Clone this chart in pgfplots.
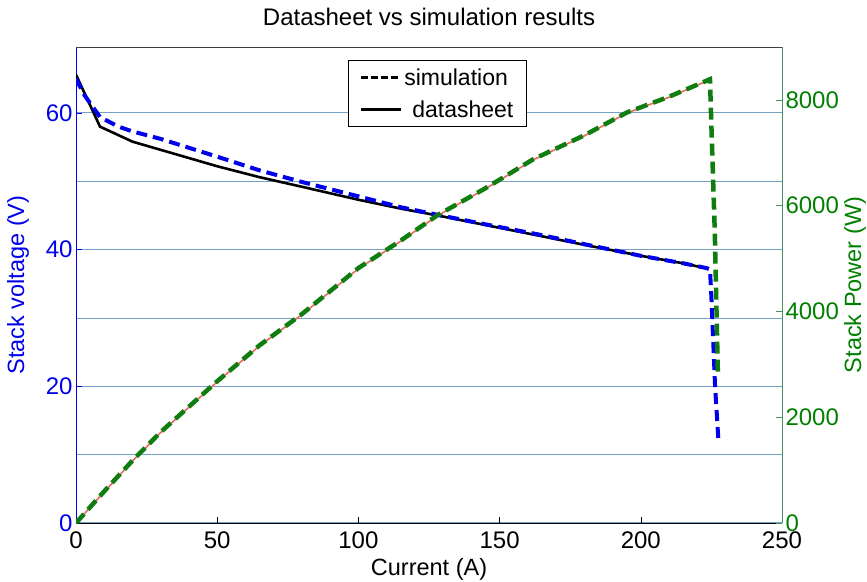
\documentclass[border=0pt]{standalone}
\usepackage{pgfplots}
\pgfplotsset{compat=1.18}
\usepackage{fontspec}
\setmainfont{Liberation Sans}
\definecolor{gridblue}{RGB}{115,160,195}
\definecolor{vblue}{RGB}{0,0,235}
\definecolor{pgreen}{RGB}{15,125,15}
\definecolor{tgreen}{RGB}{0,128,0}
\definecolor{raxis}{RGB}{70,140,100}
\definecolor{pred}{RGB}{232,105,95}
\begin{document}
\begin{tikzpicture}
\useasboundingbox (0,0) rectangle (867pt,581pt);
\begin{axis}[
  at={(76pt,58pt)}, anchor=south west,
  scale only axis, width=706pt, height=476pt,
  xmin=0, xmax=250, ymin=0, ymax=69.65,
  axis y line*=left, axis x line*=bottom,
  x axis line style={black, line width=0.8pt},
  y axis line style={vblue, line width=0.8pt},
  tick align=inside, major tick length=6pt,
  xtick={0,50,100,150,200,250},
  ytick={0,20,40,60},
  minor ytick={10,30,50},
  ymajorgrids, yminorgrids,
  major grid style={gridblue, line width=1.1pt},
  minor grid style={gridblue, line width=0.7pt},
  x tick style={black, line width=0.6pt},
  y tick style={vblue, line width=0.6pt},
  minor y tick style={draw=none},
  ticklabel style={font=\fontsize{24}{26}\selectfont},
  xticklabel style={yshift=-5pt},
  yticklabel style={text=vblue},
  /pgf/number format/assume math mode=true,
  /pgf/number format/1000 sep={},
  xlabel={Current (A)},
  xlabel style={at={(axis description cs:0.5,0)}, anchor=center, yshift=-46pt, font=\fontsize{23.5}{26}\selectfont},
  every axis y label/.style={at={(axis description cs:0,0.5)}, anchor=center, xshift=-58pt, rotate=90, text=vblue, font=\fontsize{23.5}{26}\selectfont},
  ylabel={Stack voltage (V)},
  title={Datasheet vs simulation results},
  title style={at={(axis description cs:0.5,1)}, anchor=center, yshift=24pt, font=\fontsize{24}{26}\selectfont},
  legend style={at={(0.385,0.973)}, anchor=north west, draw=black, line width=1pt,
    font=\fontsize{23}{26}\selectfont, inner xsep=11pt, inner ysep=6pt, row sep=10pt},
  legend cell align=left,
  legend image code/.code={\draw[#1] (0pt,0pt) -- (40pt,0pt);},
]
\addlegendimage{black, line width=3pt, dash pattern=on 7pt off 3pt}
\addlegendentry{simulation}
\addlegendimage{black, line width=3pt}
\addlegendentry{\hspace{8pt}datasheet}
% datasheet voltage
\addplot[black, line width=2.6pt, forget plot] coordinates {
(0,65.6) (8.5,58.0) (20,55.8) (30,54.6) (40,53.4) (50,52.2) (65,50.6)
(80,49.2) (100,47.3) (115,46.0) (128,45.0) (145,43.6) (162,42.2) (180,40.7)
(200,39.1) (215,38.0) (224,37.2)
};
% simulation voltage
\addplot[vblue, line width=4pt, dash pattern=on 11pt off 6pt, forget plot] coordinates {
(0,65.0) (3,62.6) (8.5,59.4) (15,58.0) (20,57.3) (30,56.2) (40,54.9) (50,53.6)
(65,51.6) (80,49.9) (100,47.8) (115,46.2) (128,45.1) (145,43.7) (164,42.2)
(180,40.8) (200,39.1) (215,38.0) (223.3,37.3) (224.5,37.1) (225,33) (226.3,20) (227.5,12)
};
\draw[darkgray, line width=0.8pt] (rel axis cs:0,1) -- (rel axis cs:1,1);
\end{axis}
\begin{axis}[
  at={(76pt,58pt)}, anchor=south west,
  scale only axis, width=706pt, height=476pt,
  xmin=0, xmax=250, ymin=0, ymax=9000,
  axis y line*=right, axis x line=none,
  y axis line style={raxis, line width=0.8pt},
  tick align=inside, major tick length=6pt,
  ytick={0,2000,4000,6000,8000},
  y tick style={raxis, line width=0.6pt},
  scaled y ticks=false,
  ticklabel style={font=\fontsize{24}{26}\selectfont},
  yticklabel style={text=tgreen},
  /pgf/number format/assume math mode=true,
  /pgf/number format/1000 sep={},
  every axis y label/.style={at={(axis description cs:1,0.5)}, anchor=center, xshift=73pt, rotate=90, text=tgreen, font=\fontsize{23.5}{26}\selectfont},
  ylabel={Stack Power (W)},
]
% datasheet power
\addplot[pred, line width=1.6pt] coordinates {
(0,0) (10,590) (20,1170) (30,1710) (40,2190) (50,2670) (65,3350) (80,3940)
(100,4810) (115,5330) (128,5810) (145,6320) (162,6870) (180,7320) (195,7750)
(210,8050) (224,8370)
};
% simulation power
\addplot[pgreen, line width=4.5pt, dash pattern=on 12pt off 6pt] coordinates {
(0,0) (10,600) (20,1180) (30,1720) (40,2200) (50,2680) (65,3360) (80,3950)
(100,4820) (115,5340) (128,5820) (145,6330) (162,6880) (180,7330) (195,7760)
(210,8060) (224.5,8390) (225,7500) (226.2,5500) (227.3,2800)
};
\end{axis}
\end{tikzpicture}
\end{document}
